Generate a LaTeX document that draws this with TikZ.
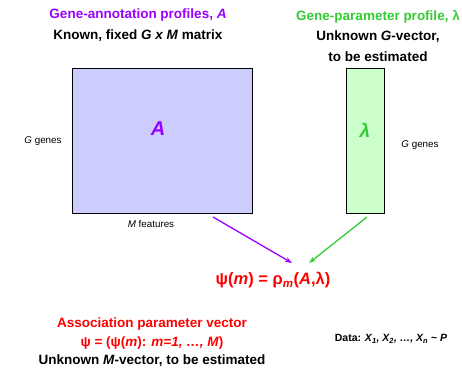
\documentclass[tikz,border=0pt]{standalone}
\usepackage{fontspec}
\setmainfont{Liberation Sans}
\usepackage{xcolor}
\usetikzlibrary{positioning,arrows.meta}
\definecolor{annotpurple}{RGB}{153,0,255}
\definecolor{paramgreen}{RGB}{51,204,51}
\definecolor{matfill}{RGB}{204,204,255}
\definecolor{vecfill}{RGB}{204,255,204}

\begin{document}
\begin{tikzpicture}[x=1pt, y=-1pt, >={Stealth[length=7pt,width=5pt]},
 title/.style={align=center, font=\fontsize{13.5}{20.5}\selectfont\bfseries},
 small/.style={font=\fontsize{9.8}{11}\selectfont},
 block/.style={draw, line width=0.7pt, minimum height=145pt, inner sep=0pt},
 link/.style={->, line width=1.3pt}]

\useasboundingbox (0,0) rectangle (462,374);

% titles
\node[title] (annot) at (138,25) {\textcolor{annotpurple}{Gene-annotation profiles, \textit{A}}\\Known, fixed \textit{G x M} matrix};
\node[title] (param) at (378,36) {\textcolor{paramgreen}{Gene-parameter profile, λ}\\Unknown \textit{G}-vector,\\to be estimated};

% the matrix and the vector
\node[block, fill=matfill, minimum width=180pt] (matA) at (162,140.5) {};
\node[block, fill=vecfill, minimum width=38pt] (vecL) at (365,140.5) {};
\node[font=\fontsize{20}{22}\selectfont\bfseries\itshape, text=annotpurple] (labA) at (158,129) {A};
\node[font=\fontsize{19}{22}\selectfont\bfseries\itshape, text=paramgreen] (labL) at (365,130) {λ};

\node[small] (rowsA) at (43,141) {\textit{G} genes};
\node[small] (colsA) at (151,224) {\textit{M} features};
\node[small] (rowsL) at (420,145) {\textit{G} genes};

% formula
\node[font=\fontsize{16.5}{18}\selectfont\bfseries, text=red] (psi) at (273,280) {ψ(\textit{m}) = ρ\textsubscript{\textit{m}}(\textit{A},λ)};

\coordinate (aTail) at (213,217);
\coordinate (aHead) at (292,263);
\coordinate (lTail) at (367,217);
\coordinate (lHead) at (309,263);

\path
 (aTail) edge[link, annotpurple] (aHead)
 (lTail) edge[link, paramgreen] (lHead);

% bottom
\node[title, font=\fontsize{13.5}{18.5}\selectfont\bfseries] (assoc) at (152,342.5) {\textcolor{red}{Association parameter vector}\\\textcolor{red}{ψ = (ψ(\textit{m}): \textit{m=1, …, M})}\\Unknown \textit{M}-vector, to be estimated};
\node[font=\fontsize{10.5}{12}\selectfont\bfseries] (data) at (391,339) {Data: \textit{X\textsubscript{1}, X\textsubscript{2}, …, X\textsubscript{n}} \textasciitilde{} \textit{P}};
\end{tikzpicture}
\end{document}
